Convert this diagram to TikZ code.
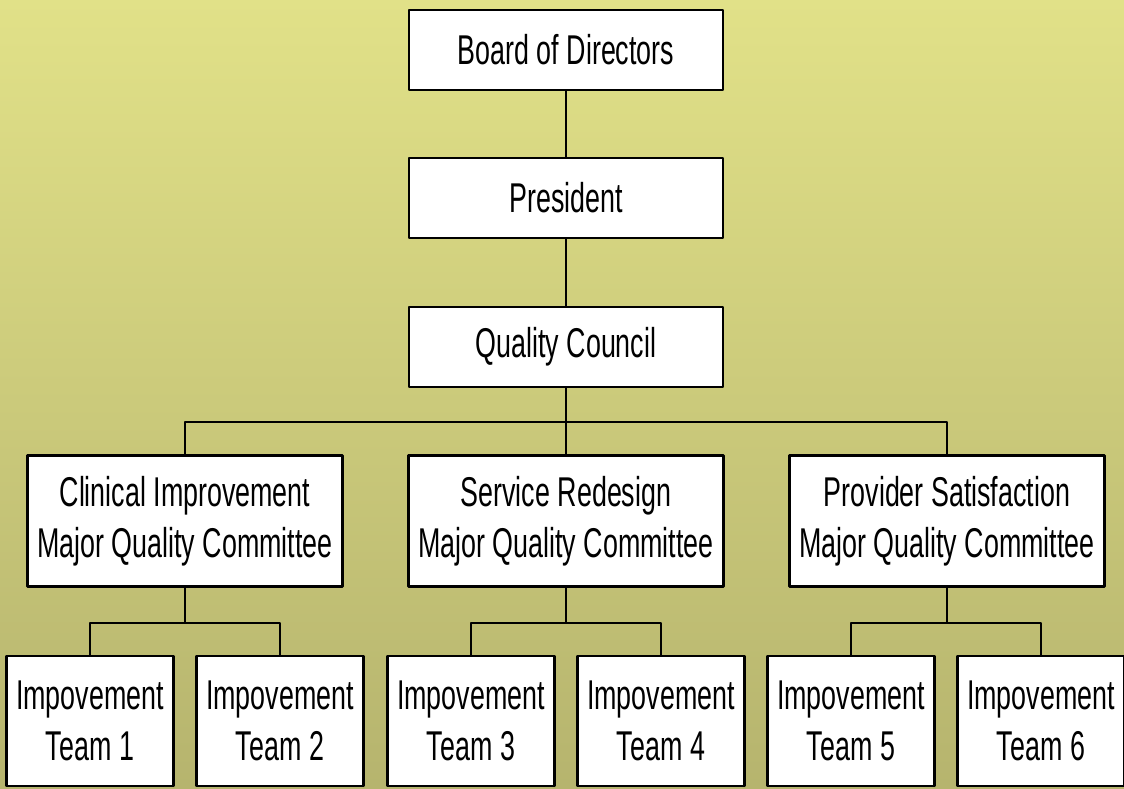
\documentclass[tikz,border=0pt]{standalone}
\usepackage{fontspec}
\setmainfont{Liberation Sans}[FakeStretch=0.645]
\definecolor{bgtop}{RGB}{225,225,136}
\definecolor{bgbot}{RGB}{182,180,110}
\begin{document}
\begin{tikzpicture}[x=0.02cm,y=-0.02cm,line join=round,
	box/.style={draw,line width=1.3pt,fill=white,align=center,inner sep=0pt,
		font=\fontsize{23.7}{29}\selectfont},
	topbox/.style={box,minimum width=6.28cm,minimum height=1.6cm},
	mqc/.style={box,minimum width=6.3cm,minimum height=2.62cm},
	team/.style={box,minimum width=3.34cm,minimum height=2.6cm},
	link/.style={line width=1pt}]
	%nen
	\useasboundingbox (0,0) rectangle (1124,788);
	\shade[top color=bgtop,bottom color=bgbot] (0,0) rectangle (1124,788);
	%cap tren
	\node[topbox] (bd) at (566,50) {Board of Directors};
	\node[topbox] (pres) at (566,198) {President};
	\node[topbox] (qc) at (566,347) {Quality Council};
	%uy ban
	\node[mqc] (cl) at (185,521) {Clinical Improvement\\Major Quality Committee};
	\node[mqc] (sr) at (566,521) {Service Redesign\\Major Quality Committee};
	\node[mqc] (pv) at (947,521) {Provider Satisfaction\\Major Quality Committee};
	%nhom
	\foreach \n/\x in {1/90,2/280,3/471,4/661,5/851,6/1041}
	\node[team] (t\n) at (\x,721) {Impovement\\Team \n};
	%duong noi
	\coordinate (bus) at (566,422);
	\draw[link] (bd)--(pres);
	\draw[link] (pres)--(qc);
	\draw[link] (qc)--(bus);
	\draw[link] (cl.north)|-(bus)-|(pv.north);
	\draw[link] (bus)--(sr);
	\foreach \c/\a/\b in {cl/t1/t2,sr/t3/t4,pv/t5/t6}{
		\coordinate (b\c) at ([yshift=-0.7cm]\c.south);
		\draw[link] (\c)--(b\c);
		\draw[link] (\a.north)|-(b\c)-|(\b.north);
	}
\end{tikzpicture}
\end{document}
